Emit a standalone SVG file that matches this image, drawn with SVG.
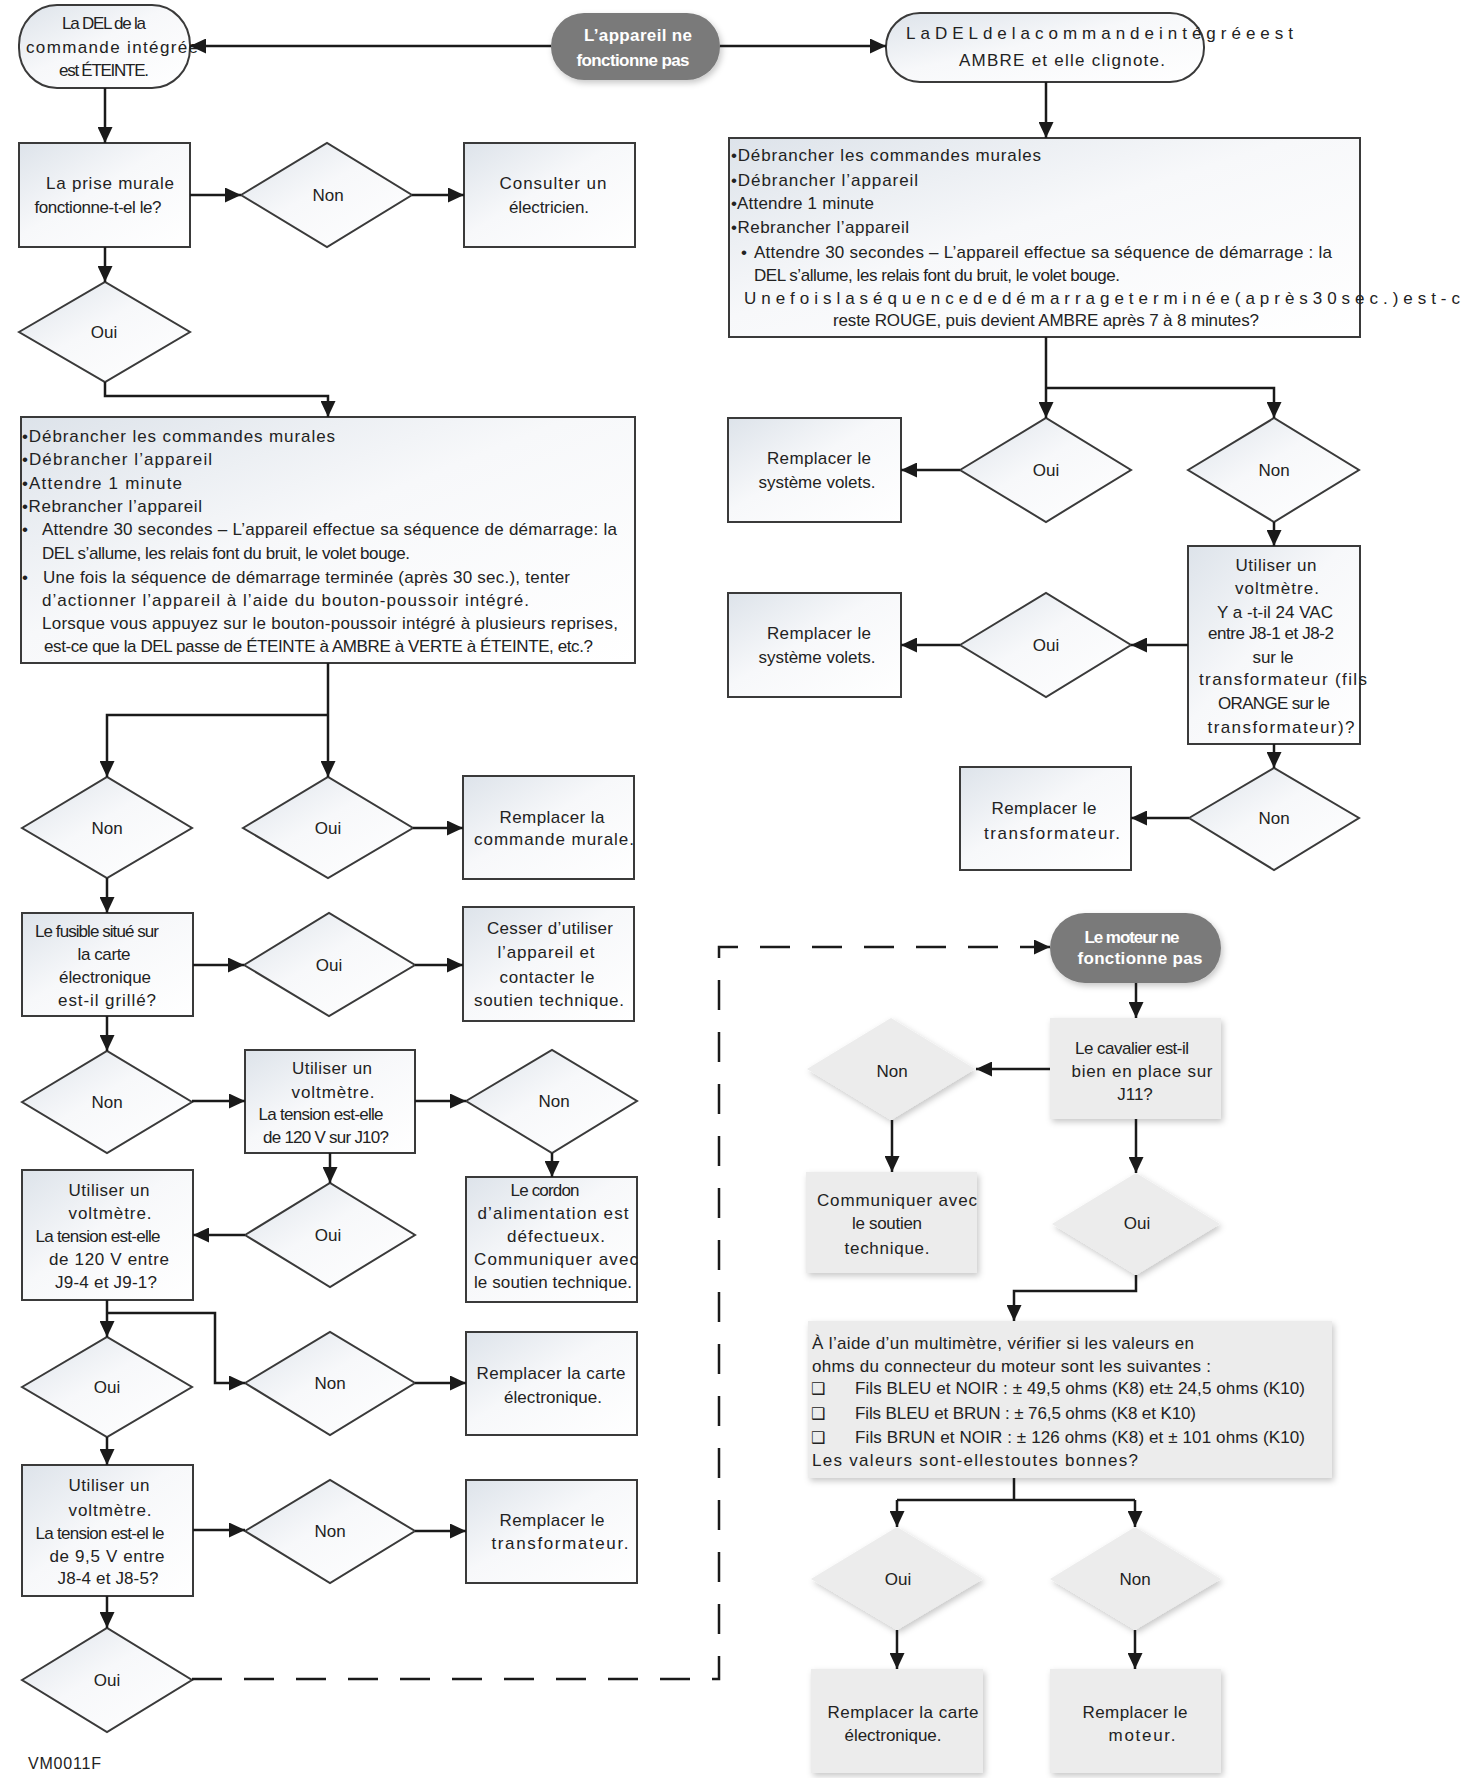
<svg xmlns="http://www.w3.org/2000/svg" width="1471" height="1778" viewBox="0 0 1471 1778">
<style>
.bx{fill:url(#wg);stroke:#3a3a3a;stroke-width:2}
.lt{fill:#ececec;filter:url(#sh)}
.dk{fill:#7a7a7a;filter:url(#sh)}
.ln{fill:none;stroke:#1a1a1a;stroke-width:2.5;marker-end:url(#ah)}
.pl{fill:none;stroke:#1a1a1a;stroke-width:2.5}
.ds{fill:none;stroke:#1a1a1a;stroke-width:2.5;stroke-dasharray:30 22;marker-end:url(#ah)}
text{font-family:"Liberation Sans",Arial,sans-serif;font-size:17px;fill:#222}
.c{text-anchor:middle}
.w{fill:#fff;font-weight:bold}
.ck{font-family:"DejaVu Sans",sans-serif;font-size:16px}
</style>
<defs>
<linearGradient id="wg" x1="0" y1="0" x2="1" y2="1">
<stop offset="0" stop-color="#dde3ea"/>
<stop offset="0.45" stop-color="#f7f8fa"/>
<stop offset="1" stop-color="#ffffff"/>
</linearGradient>
<filter id="sh" x="-10%" y="-10%" width="130%" height="130%">
<feDropShadow dx="2" dy="3" stdDeviation="3" flood-color="#000" flood-opacity="0.22"/>
</filter>
<marker id="ah" markerUnits="userSpaceOnUse" markerWidth="16" markerHeight="15" refX="16" refY="7.5" orient="auto">
<path d="M0,0 L16,7.5 L0,15 z" fill="#1a1a1a"/>
</marker>
</defs>
<rect width="1471" height="1778" fill="#fff"/>

<g id="t0"><rect class="dk" x="551" y="13" width="169" height="67" rx="33"/>
<text class="c w" x="638" y="41" textLength="108">L’appareil ne</text>
<text class="c w" x="633" y="66" textLength="113">fonctionne pas</text></g>

<g id="t1"><rect class="bx" x="19" y="5" width="171" height="83" rx="38" ry="40"/>
<text class="c" x="104" y="29" textLength="84">La DEL de la</text>
<text class="c" x="112" y="53" textLength="172">commande intégrée</text>
<text class="c" x="104" y="76" textLength="90">est ÉTEINTE.</text></g>

<g id="b1"><rect class="bx" x="19" y="143" width="171" height="104"/>
<text class="c" x="110" y="189" textLength="128">La prise murale</text>
<text class="c" x="98" y="213" textLength="127">fonctionne-t-el le?</text></g>

<g id="d1"><polygon class="bx" points="241,195 327,143 412,195 327,247"/><text class="c" x="328" y="201">Non</text></g>

<g id="b2"><rect class="bx" x="464" y="143" width="171" height="104"/>
<text class="c" x="553" y="189" textLength="107">Consulter un</text>
<text class="c" x="549" y="213" textLength="80">électricien.</text></g>

<g id="d2"><polygon class="bx" points="19,332 105,282 190,332 105,382"/><text class="c" x="104" y="338">Oui</text></g>

<g id="b3"><rect class="bx" x="21" y="417" width="614" height="246"/>
<text x="22" y="442" textLength="313">•Débrancher les commandes murales</text>
<text x="22" y="465" textLength="190">•Débrancher l’appareil</text>
<text x="22" y="489" textLength="160">•Attendre 1 minute</text>
<text x="22" y="512" textLength="180">•Rebrancher l’appareil</text>
<text x="22" y="535">•</text>
<text x="42" y="535" textLength="575">Attendre 30 secondes – L’appareil effectue sa séquence de démarrage: la</text>
<text x="42" y="559" textLength="368">DEL s’allume, les relais font du bruit, le volet bouge.</text>
<text x="22" y="583">•</text>
<text x="43" y="583" textLength="527">Une fois la séquence de démarrage terminée (après 30 sec.), tenter</text>
<text x="42" y="606" textLength="487">d’actionner l’appareil à l’aide du bouton-poussoir intégré.</text>
<text x="42" y="629" textLength="576">Lorsque vous appuyez sur le bouton-poussoir intégré à plusieurs reprises,</text>
<text x="44" y="652" textLength="549">est-ce que la DEL passe de ÉTEINTE à AMBRE à VERTE à ÉTEINTE, etc.?</text></g>

<g id="d3"><polygon class="bx" points="22,828 107,777 192,828 107,878"/><text class="c" x="107" y="834">Non</text></g>
<g id="d4"><polygon class="bx" points="243,828 328,777 413,828 328,878"/><text class="c" x="328" y="834">Oui</text></g>

<g id="b4"><rect class="bx" x="463" y="776" width="171" height="103"/>
<text class="c" x="552" y="823" textLength="105">Remplacer la</text>
<text class="c" x="554" y="845" textLength="160">commande murale.</text></g>

<g id="b5"><rect class="bx" x="22" y="913" width="171" height="103"/>
<text class="c" x="97" y="937" textLength="124">Le fusible situé sur</text>
<text class="c" x="104" y="960" textLength="53">la carte</text>
<text class="c" x="105" y="983" textLength="92">électronique</text>
<text class="c" x="107" y="1006" textLength="98">est-il grillé?</text></g>

<g id="d5"><polygon class="bx" points="244,965 329,913 415,965 329,1016"/><text class="c" x="329" y="971">Oui</text></g>

<g id="b6"><rect class="bx" x="463" y="907" width="171" height="114"/>
<text class="c" x="550" y="934" textLength="126">Cesser d’utiliser</text>
<text class="c" x="546" y="958" textLength="97">l’appareil et</text>
<text class="c" x="547" y="983" textLength="95">contacter le</text>
<text class="c" x="549" y="1006" textLength="150">soutien technique.</text></g>

<g id="d6"><polygon class="bx" points="22,1102 107,1051 192,1102 107,1153"/><text class="c" x="107" y="1108">Non</text></g>

<g id="b7"><rect class="bx" x="245" y="1050" width="170" height="103"/>
<text class="c" x="332" y="1074" textLength="80">Utiliser un</text>
<text class="c" x="333" y="1098" textLength="83">voltmètre.</text>
<text class="c" x="321" y="1120" textLength="125">La tension est-elle</text>
<text class="c" x="326" y="1143" textLength="126">de 120 V sur J10?</text></g>

<g id="d7"><polygon class="bx" points="466,1101 552,1050 637,1101 552,1153"/><text class="c" x="554" y="1107">Non</text></g>

<g id="b8"><rect class="bx" x="466" y="1177" width="171" height="125"/>
<text class="c" x="545" y="1196" textLength="69">Le cordon</text>
<text class="c" x="553" y="1219" textLength="151">d’alimentation est</text>
<text class="c" x="556" y="1242" textLength="98">défectueux.</text>
<text class="c" x="556" y="1265" textLength="164">Communiquer avec</text>
<text class="c" x="553" y="1288" textLength="158">le soutien technique.</text></g>

<g id="d8"><polygon class="bx" points="245,1235 330,1183 415,1235 330,1287"/><text class="c" x="328" y="1241">Oui</text></g>

<g id="b9"><rect class="bx" x="22" y="1170" width="171" height="130"/>
<text class="c" x="109" y="1196" textLength="81">Utiliser un</text>
<text class="c" x="110" y="1219" textLength="83">voltmètre.</text>
<text class="c" x="98" y="1242" textLength="125">La tension est-elle</text>
<text class="c" x="109" y="1265" textLength="120">de 120 V entre</text>
<text class="c" x="106" y="1288" textLength="102">J9-4 et J9-1?</text></g>

<g id="d9"><polygon class="bx" points="22,1387 107,1337 192,1387 107,1437"/><text class="c" x="107" y="1393">Oui</text></g>
<g id="d10"><polygon class="bx" points="245,1383 330,1332 415,1383 330,1435"/><text class="c" x="330" y="1389">Non</text></g>

<g id="b10"><rect class="bx" x="466" y="1332" width="171" height="103"/>
<text class="c" x="551" y="1379" textLength="149">Remplacer la carte</text>
<text class="c" x="553" y="1403" textLength="98">électronique.</text></g>

<g id="b11"><rect class="bx" x="22" y="1465" width="171" height="131"/>
<text class="c" x="109" y="1491" textLength="81">Utiliser un</text>
<text class="c" x="110" y="1516" textLength="83">voltmètre.</text>
<text class="c" x="100" y="1539" textLength="129">La tension est-el le</text>
<text class="c" x="107" y="1562" textLength="115">de 9,5 V entre</text>
<text class="c" x="108" y="1584" textLength="101">J8-4 et J8-5?</text></g>

<g id="d11"><polygon class="bx" points="245,1531 330,1480 415,1531 330,1583"/><text class="c" x="330" y="1537">Non</text></g>

<g id="b12"><rect class="bx" x="466" y="1480" width="171" height="103"/>
<text class="c" x="552" y="1526" textLength="105">Remplacer le</text>
<text class="c" x="560" y="1549" textLength="137">transformateur.</text></g>

<g id="d12"><polygon class="bx" points="22,1680 107,1628 192,1680 107,1732"/><text class="c" x="107" y="1686">Oui</text></g>

<text x="28" y="1769" textLength="73" style="font-size:16px">VM0011F</text>

<g id="t2"><rect class="bx" x="886" y="13" width="318" height="69" rx="34"/>
<text x="906" y="39" textLength="387" lengthAdjust="spacing">LaDELdelacommandeintégréeest</text>
<text class="c" x="1062" y="66" textLength="206">AMBRE et elle clignote.</text></g>

<g id="b13"><rect class="bx" x="729" y="138" width="631" height="199"/>
<text x="731" y="161" textLength="310">•Débrancher les commandes murales</text>
<text x="731" y="186" textLength="187">•Débrancher l’appareil</text>
<text x="731" y="209" textLength="143">•Attendre 1 minute</text>
<text x="731" y="233" textLength="178">•Rebrancher l’appareil</text>
<text x="741" y="258">•</text>
<text x="754" y="258" textLength="578">Attendre 30 secondes – L’appareil effectue sa séquence de démarrage : la</text>
<text x="754" y="281" textLength="366">DEL s’allume, les relais font du bruit, le volet bouge.</text>
<text x="744" y="304" textLength="716" lengthAdjust="spacing">Unefoislaséquencededémarrageterminée(après30sec.)est-c</text>
<text class="c" x="1046" y="326" textLength="426">reste ROUGE, puis devient AMBRE après 7 à 8 minutes?</text></g>

<g id="d13"><polygon class="bx" points="960,470 1046,418 1131,470 1046,522"/><text class="c" x="1046" y="476">Oui</text></g>
<g id="d14"><polygon class="bx" points="1188,470 1274,418 1359,470 1274,522"/><text class="c" x="1274" y="476">Non</text></g>

<g id="b14"><rect class="bx" x="728" y="418" width="173" height="104"/>
<text class="c" x="819" y="464" textLength="104">Remplacer le</text>
<text class="c" x="817" y="488" textLength="117">système volets.</text></g>

<g id="b15"><rect class="bx" x="1188" y="546" width="172" height="198"/>
<text class="c" x="1276" y="571" textLength="81">Utiliser un</text>
<text class="c" x="1277" y="594" textLength="84">voltmètre.</text>
<text class="c" x="1275" y="618" textLength="116">Y a -t-il 24 VAC</text>
<text class="c" x="1271" y="639" textLength="126">entre J8-1 et J8-2</text>
<text class="c" x="1273" y="663" textLength="41">sur le</text>
<text class="c" x="1283" y="685" textLength="168">transformateur (fils</text>
<text class="c" x="1274" y="709" textLength="112">ORANGE sur le</text>
<text class="c" x="1281" y="733" textLength="147">transformateur)?</text></g>

<g id="d15"><polygon class="bx" points="960,645 1046,593 1131,645 1046,697"/><text class="c" x="1046" y="651">Oui</text></g>

<g id="b16"><rect class="bx" x="728" y="593" width="173" height="104"/>
<text class="c" x="819" y="639" textLength="104">Remplacer le</text>
<text class="c" x="817" y="663" textLength="117">système volets.</text></g>

<g id="d16"><polygon class="bx" points="1189,818 1274,768 1359,818 1274,870"/><text class="c" x="1274" y="824">Non</text></g>

<g id="b17"><rect class="bx" x="960" y="767" width="171" height="103"/>
<text class="c" x="1044" y="814" textLength="105">Remplacer le</text>
<text class="c" x="1052" y="839" textLength="136">transformateur.</text></g>

<g id="t3"><rect class="dk" x="1050" y="913" width="171" height="70" rx="35"/>
<text class="c w" x="1132" y="943" textLength="95">Le moteur ne</text>
<text class="c w" x="1140" y="964" textLength="125">fonctionne pas</text></g>

<g id="b18"><rect class="lt" x="1050" y="1018" width="171" height="101"/>
<text class="c" x="1132" y="1054" textLength="114">Le cavalier est-il</text>
<text class="c" x="1142" y="1077" textLength="141">bien en place sur</text>
<text class="c" x="1135" y="1100">J11?</text></g>

<g id="d17"><polygon class="lt" points="807,1069 891,1018 975,1069 891,1120"/><text class="c" x="892" y="1077">Non</text></g>

<g id="b19"><rect class="lt" x="806" y="1172" width="171" height="101"/>
<text class="c" x="897" y="1206" textLength="160">Communiquer avec</text>
<text class="c" x="887" y="1229" textLength="70">le soutien</text>
<text class="c" x="887" y="1254" textLength="85">technique.</text></g>

<g id="d18"><polygon class="lt" points="1052,1224 1136,1173 1220,1224 1136,1275"/><text class="c" x="1137" y="1229">Oui</text></g>

<g id="b20"><rect class="lt" x="808" y="1321" width="524" height="157"/>
<text x="812" y="1349" textLength="382">À l’aide d’un multimètre, vérifier si les valeurs en</text>
<text x="812" y="1372" textLength="399">ohms du connecteur du moteur sont les suivantes :</text>
<text class="ck" x="811" y="1394">❑</text>
<text x="855" y="1394" textLength="450">Fils BLEU et NOIR : ± 49,5 ohms (K8) et± 24,5 ohms (K10)</text>
<text class="ck" x="811" y="1419">❑</text>
<text x="855" y="1419" textLength="341">Fils BLEU et BRUN : ± 76,5 ohms (K8 et K10)</text>
<text class="ck" x="811" y="1443">❑</text>
<text x="855" y="1443" textLength="450">Fils BRUN et NOIR : ± 126 ohms (K8) et ± 101 ohms (K10)</text>
<text x="812" y="1466" textLength="326">Les valeurs sont-ellestoutes bonnes?</text></g>

<g id="d19"><polygon class="lt" points="811,1579 897,1527 983,1579 897,1630"/><text class="c" x="898" y="1585">Oui</text></g>
<g id="d20"><polygon class="lt" points="1050,1579 1135,1527 1221,1579 1135,1630"/><text class="c" x="1135" y="1585">Non</text></g>

<g id="b21"><rect class="lt" x="811" y="1669" width="172" height="104"/>
<text class="c" x="903" y="1718" textLength="151">Remplacer la carte</text>
<text class="c" x="893" y="1741" textLength="97">électronique.</text></g>

<g id="b22"><rect class="lt" x="1050" y="1669" width="171" height="104"/>
<text class="c" x="1135" y="1718" textLength="105">Remplacer le</text>
<text class="c" x="1142" y="1741" textLength="67">moteur.</text></g>

<g id="connectors">
<path class="ln" d="M551,46 H190"/>
<path class="ln" d="M720,46 H886"/>
<path class="ln" d="M105,88 V143"/>
<path class="ln" d="M190,195 H241"/>
<path class="ln" d="M412,195 H464"/>
<path class="ln" d="M105,247 V282"/>
<path class="ln" d="M105,382 V396 H328 V417"/>
<path class="ln" d="M328,663 V777"/>
<path class="ln" d="M328,715 H107 V777"/>
<path class="ln" d="M413,828 H463"/>
<path class="ln" d="M107,878 V913"/>
<path class="ln" d="M193,965 H244"/>
<path class="ln" d="M415,965 H463"/>
<path class="ln" d="M107,1016 V1051"/>
<path class="ln" d="M192,1101 H245"/>
<path class="ln" d="M415,1101 H466"/>
<path class="ln" d="M552,1153 V1177"/>
<path class="ln" d="M330,1153 V1183"/>
<path class="ln" d="M245,1235 H193"/>
<path class="ln" d="M107,1300 V1337"/>
<path class="ln" d="M107,1313 H215 V1383 H245"/>
<path class="ln" d="M415,1383 H466"/>
<path class="ln" d="M107,1437 V1465"/>
<path class="ln" d="M193,1530 H245"/>
<path class="ln" d="M415,1531 H466"/>
<path class="ln" d="M107,1596 V1628"/>
<path class="ds" d="M192,1679 H719 V947 H1050"/>
<path class="ln" d="M1046,82 V138"/>
<path class="ln" d="M1046,337 V418"/>
<path class="ln" d="M1046,388 H1274 V418"/>
<path class="ln" d="M960,470 H901"/>
<path class="ln" d="M1274,522 V546"/>
<path class="ln" d="M1188,645 H1131"/>
<path class="ln" d="M960,645 H901"/>
<path class="ln" d="M1274,744 V768"/>
<path class="ln" d="M1189,818 H1131"/>
<path class="ln" d="M1136,983 V1018"/>
<path class="ln" d="M1050,1069 H976"/>
<path class="ln" d="M892,1120 V1172"/>
<path class="ln" d="M1136,1119 V1173"/>
<path class="ln" d="M1136,1275 V1291 H1014 V1321"/>
<path class="pl" d="M1014,1478 V1500 M897,1500 H1135"/>
<path class="ln" d="M897,1500 V1527"/>
<path class="ln" d="M1135,1500 V1527"/>
<path class="ln" d="M897,1630 V1669"/>
<path class="ln" d="M1135,1630 V1669"/>
</g>
</svg>
